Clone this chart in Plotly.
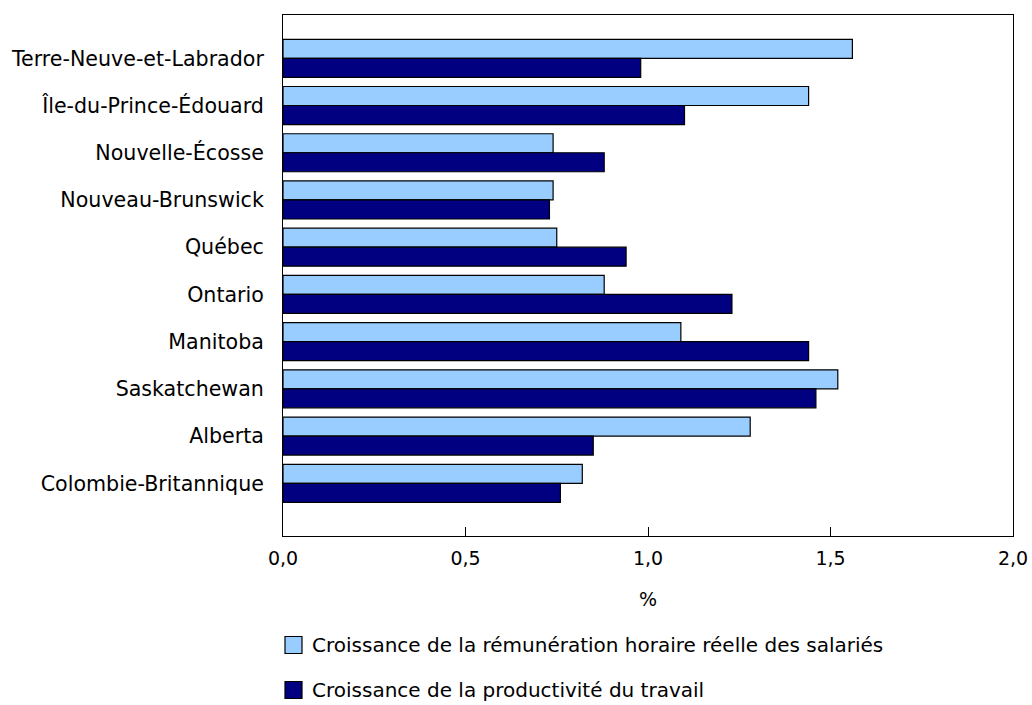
import plotly.graph_objects as go

provinces = [
    "Terre-Neuve-et-Labrador",
    "Île-du-Prince-Édouard",
    "Nouvelle-Écosse",
    "Nouveau-Brunswick",
    "Québec",
    "Ontario",
    "Manitoba",
    "Saskatchewan",
    "Alberta",
    "Colombie-Britannique",
]
remuneration = [1.56, 1.44, 0.74, 0.74, 0.75, 0.88, 1.09, 1.52, 1.28, 0.82]
productivite = [0.98, 1.10, 0.88, 0.73, 0.94, 1.23, 1.44, 1.46, 0.85, 0.76]
series_names = [
    "Croissance de la rémunération horaire réelle des salariés",
    "Croissance de la productivité du travail",
]
series_colors = ["#99CCFF", "#000080"]
x_tickvals = [0, 0.5, 1.0, 1.5, 2.0]
x_ticktext = ["0,0", "0,5", "1,0", "1,5", "2,0"]

FONT = "DejaVu Sans, Verdana, sans-serif"

fig = go.Figure()
for vals, name, col in zip([remuneration, productivite], series_names, series_colors):
    fig.add_trace(go.Bar(
        y=provinces, x=vals, orientation="h", name=name,
        marker=dict(color=col, line=dict(color="#000000", width=1.2)),
        showlegend=False,
    ))

# manual legend (larger swatches than Plotly's default)
legend_y = [-0.2092, -0.2956]
for ly, name, col in zip(legend_y, series_names, series_colors):
    fig.add_shape(
        type="rect", xref="paper", yref="paper",
        xsizemode="pixel", ysizemode="pixel",
        xanchor=0, yanchor=ly, x0=2, x1=19, y0=-8.5, y1=8.5,
        fillcolor=col, line=dict(color="#000000", width=1.2),
    )
    fig.add_annotation(
        xref="paper", yref="paper", x=0, y=ly, xshift=27,
        xanchor="left", yanchor="middle", showarrow=False,
        text=name, font=dict(family=FONT, size=20, color="#000000"),
    )

fig.update_layout(
    width=1032, height=705,
    margin=dict(l=283, r=19, t=15, b=169),
    plot_bgcolor="white", paper_bgcolor="white",
    barmode="group", bargap=0.195, bargroupgap=0,
    font=dict(family=FONT, size=20, color="#000000"),
    showlegend=False,
    xaxis=dict(
        range=[0, 2.0], tickvals=x_tickvals, ticktext=x_ticktext,
        showgrid=False, zeroline=False, automargin=False,
        showline=True, linecolor="#000000", linewidth=1, mirror=True,
        ticks="inside", ticklen=9, tickcolor="#000000", tickwidth=1,
        ticklabelstandoff=5,
        tickfont=dict(family=FONT, size=19),
        title=dict(text="%", font=dict(family=FONT, size=19), standoff=24),
    ),
    yaxis=dict(
        type="category", categoryorder="array", categoryarray=provinces,
        range=[10.116, -0.917],
        showgrid=False, zeroline=False, automargin=False,
        showline=True, linecolor="#000000", linewidth=1, mirror=True,
        ticks="", ticklabelstandoff=14,
        tickfont=dict(family=FONT, size=20.6),
    ),
)

fig.write_html(
    "out.html",
    config={"displayModeBar": False},
    post_script="document.body.style.margin='0';document.body.style.overflow='hidden';",
)
